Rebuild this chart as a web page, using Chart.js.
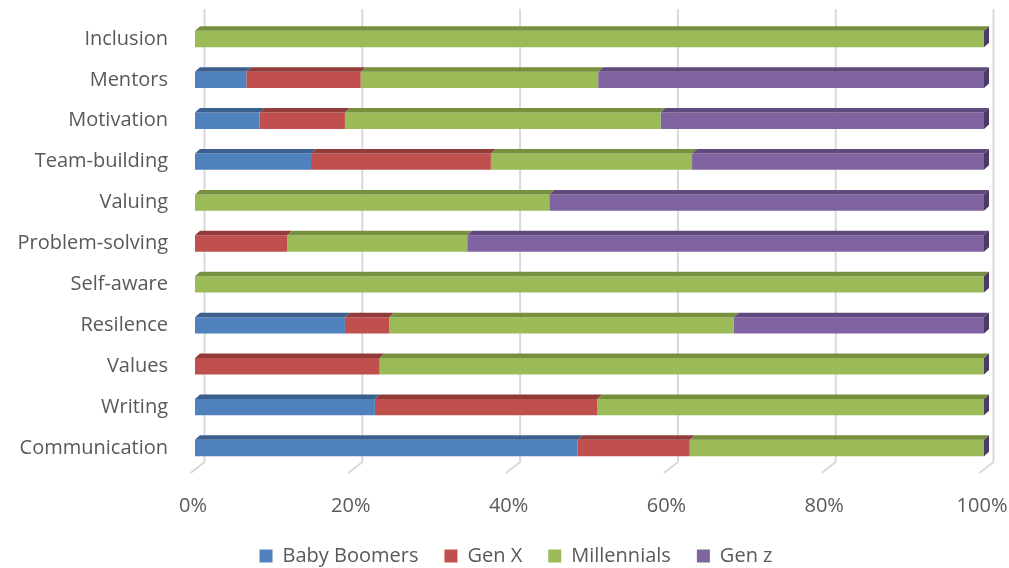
<!DOCTYPE html>
<html>
<head>
<meta charset="utf-8">
<script src="https://cdn.jsdelivr.net/npm/chart.js@4.4.1/dist/chart.umd.min.js"></script>
<style>
  html, body { margin: 0; padding: 0; background: #fff; }
  #wrap { width: 1009px; height: 568px; }
</style>
</head>
<body>
<div id="wrap"><canvas id="myChart" width="1009" height="568"></canvas></div>
<script>
// categories, top to bottom
var categories = ['Inclusion', 'Mentors', 'Motivation', 'Team-building', 'Valuing',
  'Problem-solving', 'Self-aware', 'Resilence', 'Values', 'Writing', 'Communication'];

// share of each generation (%)
var babyBoomers = [0, 6.5, 8.2, 14.7, 0, 0, 0, 19.0, 0, 22.8, 48.5];
var genX        = [0, 14.5, 10.8, 22.8, 0, 11.7, 0, 5.6, 23.4, 28.2, 14.2];
var millennials = [100, 30.1, 40.0, 25.5, 44.9, 22.8, 100, 43.7, 76.6, 49.0, 37.3];
var genZ        = [0, 48.9, 41.0, 37.0, 55.1, 65.5, 0, 31.7, 0, 0, 0];

var xTicks = [0, 20, 40, 60, 80, 100];

var frontColors = ['#4F81BD', '#C0504D', '#9BBB59', '#8064A2'];
var topColors   = ['#3B6090', '#913C3A', '#77903F', '#604A7D'];
var sideColor   = '#4B3A63';
var depthX = 5, depthY = 4.5;

/*======= fake 3D: back-wall grid, floor and bar top/side faces =======*/
var threeD = {
  id: 'threeD',
  beforeLayout: function(chart) {
    // legend padding is wide for the item gaps, keep its box short
    var lg = chart.legend;
    if (lg && !lg._shortFit) {
      var fit = lg.fit;
      lg.fit = function() { fit.call(this); this.height = 568 - 518.5; };
      lg._shortFit = true;
    }
  },
  afterLayout: function(chart) {
    var lg = chart.legend;
    if (lg) {
      var dy = 520 - lg.top;
      lg.top += dy;
      lg.bottom += dy;
      lg.left += 24;
      lg.right += 24;
    }
  },
  beforeDatasetsDraw: function(chart) {
    var ctx = chart.ctx, xs = chart.scales.x;
    ctx.save();
    ctx.strokeStyle = '#D9D9D9';
    ctx.lineWidth = 2;
    xTicks.forEach(function(v) {
      var x = xs.getPixelForValue(v) + 9.5;
      ctx.beginPath();
      ctx.moveTo(x, 9);
      ctx.lineTo(x, 462);
      ctx.lineTo(x - 14, 473);
      ctx.stroke();
    });
    ctx.restore();
  },
  afterDatasetsDraw: function(chart) {
    var ctx = chart.ctx, xs = chart.scales.x;
    ctx.save();
    chart.data.datasets.forEach(function(ds, i) {
      var meta = chart.getDatasetMeta(i);
      meta.data.forEach(function(bar) {
        var x0 = Math.min(bar.x, bar.base), x1 = Math.max(bar.x, bar.base);
        if (x1 - x0 < 0.5) return;
        var top = bar.y - bar.height / 2;
        ctx.fillStyle = topColors[i];
        ctx.beginPath();
        ctx.moveTo(x0, top);
        ctx.lineTo(x0 + depthX, top - depthY);
        ctx.lineTo(x1 + depthX, top - depthY);
        ctx.lineTo(x1, top);
        ctx.closePath();
        ctx.fill();
      });
    });
    // right end side face
    var xEnd = xs.getPixelForValue(100);
    chart.getDatasetMeta(0).data.forEach(function(bar) {
      var top = bar.y - bar.height / 2, bottom = bar.y + bar.height / 2;
      ctx.fillStyle = sideColor;
      ctx.beginPath();
      ctx.moveTo(xEnd, top);
      ctx.lineTo(xEnd + depthX, top - depthY);
      ctx.lineTo(xEnd + depthX, bottom - depthY);
      ctx.lineTo(xEnd, bottom);
      ctx.closePath();
      ctx.fill();
    });
    ctx.restore();
  }
};

var ctx = document.getElementById('myChart').getContext('2d');
var myChart = new Chart(ctx, {
  type: 'bar',
  data: {
    labels: categories,
    datasets: [
      { label: 'Baby Boomers', data: babyBoomers, backgroundColor: frontColors[0] },
      { label: 'Gen X', data: genX, backgroundColor: frontColors[1] },
      { label: 'Millennials', data: millennials, backgroundColor: frontColors[2] },
      { label: 'Gen z', data: genZ, backgroundColor: frontColors[3] }
    ]
  },
  plugins: [threeD],
  options: {
    indexAxis: 'y',
    responsive: false,
    animation: false,
    barPercentage: 0.4,
    categoryPercentage: 1,
    borderWidth: 0,
    layout: {
      padding: { left: 0, right: 25, top: 18.5, bottom: 0 }
    },
    plugins: {
      legend: {
        position: 'bottom',
        labels: {
          boxWidth: 13,
          boxHeight: 13,
          padding: 26,
          color: '#595959',
          font: { family: 'Open Sans', size: 20 }
        }
      },
      tooltip: { enabled: false }
    },
    scales: {
      x: {
        stacked: true,
        min: 0,
        max: 100,
        afterFit: function(scale) {
          scale.height = 50;
          scale.paddingLeft = 0;
          scale.paddingRight = 0;
        },
        afterBuildTicks: function(scale) {
          scale.ticks = xTicks.map(function(v) { return { value: v }; });
        },
        grid: { display: false },
        border: { display: false },
        ticks: {
          padding: 17.5,
          labelOffset: -2,
          maxRotation: 0,
          autoSkip: false,
          color: '#595959',
          font: { family: 'Open Sans', size: 20 },
          callback: function(v) { return v + '%'; }
        }
      },
      y: {
        stacked: true,
        afterFit: function(scale) {
          scale.width = 195;
          scale.paddingTop = 0;
          scale.paddingBottom = 0;
        },
        grid: { display: false },
        border: { display: false },
        ticks: {
          padding: 19,
          color: '#595959',
          font: { family: 'Open Sans', size: 20 }
        }
      }
    }
  }
});
</script>
</body>
</html>
